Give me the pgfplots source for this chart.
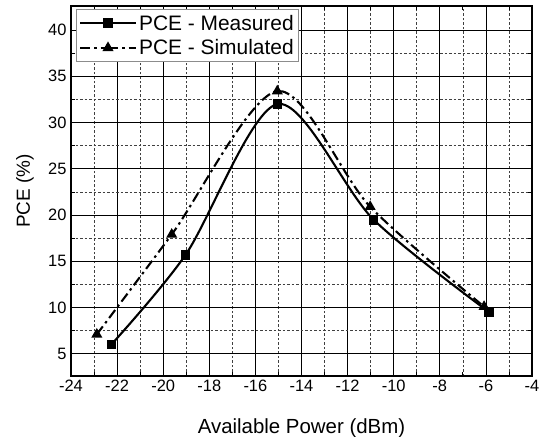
\documentclass[border=0pt]{standalone}
\usepackage{pgfplots}
\pgfplotsset{compat=1.18}
\usepackage{fontspec}
\setmainfont{Liberation Sans}
\begin{document}
\begin{tikzpicture}
\useasboundingbox (-71bp,-61bp) rectangle (475bp,376bp);
\begin{axis}[
  at={(0,0)}, anchor=south west,
  scale only axis,
  width=461bp, height=370bp,
  xmin=-24, xmax=-4, ymin=2.6, ymax=42.6,
  xtick={-24,-22,...,-4}, ytick={5,10,...,40},
  minor x tick num=1, minor y tick num=1,
  grid=both,
  major grid style={black, line width=0.8pt},
  minor grid style={black!75, dash pattern=on 2.5bp off 2bp, line width=0.6pt},
  axis line style={line width=1.2pt},
  tick style={black, line width=0.8pt},
  major tick length=6bp, minor tick length=4bp,
  tick align=inside,
  /pgf/number format/assume math mode=true,
  ticklabel style={font=\fontsize{16.5}{18}\selectfont},
  xticklabel style={yshift=-1bp},
  yticklabel style={xshift=-1bp},
  xlabel={Available Power (dBm)}, ylabel={PCE (\%)},
  xlabel style={font=\fontsize{20.5}{22}\selectfont, at={(axis description cs:0.5,0)}, anchor=base, yshift=-57bp},
  ylabel style={font=\fontsize{19}{20}\selectfont, at={(axis description cs:-0.1,0.5)}, anchor=center},
  legend style={font=\fontsize{21}{23}\selectfont, draw=black!45, line width=0.8pt, fill=white, inner xsep=2.5bp, inner ysep=3.5bp, row sep=4bp, at={(axis description cs:0.011,0.992)}, anchor=north west},
  legend cell align=left,
  legend image code/.code={\draw[#1] (0bp,0bp) -- (28bp,0bp) plot coordinates {(28bp,0bp)} -- (56bp,0bp);},
]
\addplot[black, line width=2.1pt, mark=square*, mark size=3.8pt, smooth, tension=0.5] coordinates {
  (-22.25,6) (-19.03,15.7) (-15.04,32) (-10.87,19.5) (-5.86,9.5)
};
\addlegendentry{PCE - Measured}
\addplot[black, line width=2.1pt, dash pattern=on 10bp off 4bp on 2.5bp off 4bp, mark=triangle*, mark size=4.3pt, mark options={solid}, smooth, tension=0.5] coordinates {
  (-22.88,7.1) (-19.63,17.9) (-15.05,33.4) (-11.02,20.9) (-6.08,10.1)
};
\addlegendentry{PCE - Simulated}
\end{axis}
\end{tikzpicture}
\end{document}
